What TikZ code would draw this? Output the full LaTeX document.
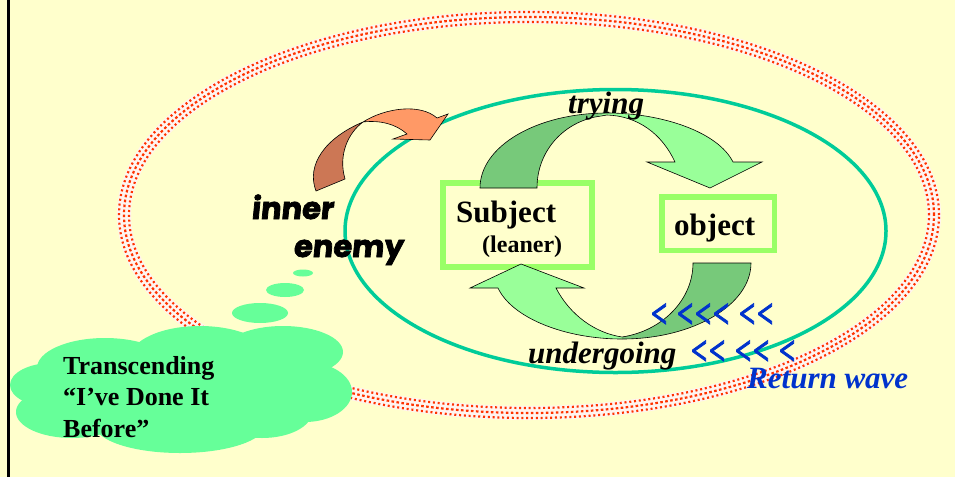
\documentclass[tikz,border=0pt]{standalone}
\usepackage{fontspec}
\setmainfont{Liberation Serif}
\newfontfamily\enemyfont[FakeSlant=0.1,BoldFeatures={FakeBold=2.5}]{Poppins}
\newfontfamily\chevfont[BoldItalicFeatures={FakeBold=2}]{Liberation Serif}
\newcommand\chv{\makebox[18pt]{\scalebox{0.95}[1.38]{<}}}
\newcommand\chgap{\hspace{8pt}}
\definecolor{bgyellow}{HTML}{FFFFCC}
\definecolor{ringteal}{HTML}{00CC99}
\definecolor{boxgreen}{HTML}{99FF66}
\definecolor{arrowdark}{HTML}{77C97A}
\definecolor{arrowlight}{HTML}{99FF99}
\definecolor{cloudgreen}{HTML}{66FF99}
\definecolor{orangedark}{HTML}{CC7755}
\definecolor{orangelight}{HTML}{FF9966}
\definecolor{wave}{HTML}{0033CC}
\definecolor{bandred}{HTML}{FF3300}
\definecolor{bandbase}{HTML}{FFF4F0}
\tikzset{
  greenbox/.style={draw=boxgreen, inner sep=0pt},
  arrowpiece/.style={draw=black, line width=0.6pt, line join=miter},
  bigbold/.style={font=\bfseries\fontsize{31}{36}\selectfont},
  bigbi/.style={font=\bfseries\itshape\fontsize{31}{36}\selectfont},
  cloudtext/.style={font=\bfseries\fontsize{26}{31}\selectfont, anchor=base west, inner sep=0pt},
  enemytext/.style={font=\enemyfont\bfseries\fontsize{30.5}{36}\selectfont, anchor=base west, inner sep=0pt},
  chev/.style={font=\chevfont\bfseries\itshape\fontsize{30}{34}\selectfont, text=wave, anchor=west, inner sep=0pt},
  band/.style={bandred, line width=2.2pt, dash pattern=on 2pt off 2.8pt},
}
\begin{document}
\begin{tikzpicture}[x=1pt,y=-1pt]
\useasboundingbox (0,0) rectangle (955,477);
\fill[bgyellow] (0,0) rectangle (955,477);
\draw[black, line width=2.7pt] (8.7,0) -- (8.7,477);

% outer textured ring
\draw[bandbase, line width=14pt] (529,215) ellipse [x radius=405pt, y radius=198pt];
\draw[band] (529,215) ellipse [x radius=400pt, y radius=193pt];
\draw[band, dash pattern=on 2.6pt off 2.4pt] (529,215) ellipse [x radius=405pt, y radius=198pt];
\draw[band] (529,215) ellipse [x radius=410pt, y radius=203pt];

% inner teal ring
\draw[ringteal, line width=3.5pt] (615.5,231) ellipse [x radius=270.5pt, y radius=141.5pt];

% thought cloud
\begin{scope}[cloudgreen]
\fill (52,385) ellipse [x radius=42pt, y radius=22pt];
\fill (72,412) ellipse [x radius=56pt, y radius=26pt];
\fill (105,368) ellipse [x radius=68pt, y radius=30pt];
\fill (200,358) ellipse [x radius=70pt, y radius=32pt];
\fill (283,352) ellipse [x radius=60pt, y radius=26pt];
\fill (305,392) ellipse [x radius=47pt, y radius=30pt];
\fill (180,425) ellipse [x radius=85pt, y radius=28pt];
\fill (262,412) ellipse [x radius=50pt, y radius=26pt];
\fill (180,392) ellipse [x radius=150pt, y radius=42pt];
\fill (260,313) ellipse [x radius=28pt, y radius=10pt];
\fill (285,290) ellipse [x radius=19pt, y radius=7pt];
\fill (303,273) ellipse [x radius=10pt, y radius=3.5pt];
\end{scope}
\node[cloudtext] (t1) at (63,374) {Transcending};
\node[cloudtext] (t2) at (63,405) {“I’ve Done It};
\node[cloudtext] (t3) at (63,437) {Before”};

% boxes
\node[greenbox, line width=6pt, minimum width=149pt, minimum height=84pt] (subjbox) at (517.5,225) {};
\node[greenbox, line width=5.5pt, minimum width=112.5pt, minimum height=53.5pt] (objbox) at (718,223.5) {};
\node[bigbold, anchor=base west, inner sep=0pt] (subj) at (456,222) {Subject};
\node[font=\bfseries\fontsize{24}{28}\selectfont, anchor=base west, inner sep=0pt] (lean) at (482,252) {(leaner)};
\node[bigbold, anchor=base west, inner sep=0pt] (obj) at (674,235) {object};

% top curved arrow (trying)
\fill[arrowdark] (480,188) .. controls (480,146) and (537,113) .. (607,113)
  -- (595,117) .. controls (562,124) and (537,152) .. (537,188) -- cycle;
\fill[arrowlight] (607,113) .. controls (662,113) and (718,132) .. (733,162)
  -- (762,162) -- (710,188) -- (647,162) -- (675,162)
  .. controls (662,134) and (638,116) .. (607,115) -- (595,117) -- cycle;
\draw[arrowpiece] (480,188) .. controls (480,146) and (537,113) .. (607,113)
  .. controls (662,113) and (718,132) .. (733,162)
  -- (762,162) -- (710,188) -- (647,162) -- (675,162)
  .. controls (662,134) and (638,116) .. (607,115) -- (595,117)
  .. controls (562,124) and (537,152) .. (537,188) -- cycle;

% bottom curved arrow (undergoing)
\fill[arrowdark] (751,263) .. controls (751,305) and (693,339) .. (622,339)
  -- (622,337) .. controls (662,331) and (693,300) .. (693,263) -- cycle;
\fill[arrowlight] (622,339) .. controls (565,339) and (512,318) .. (498,288)
  -- (470,288) -- (521,264) -- (584,288) -- (556,288)
  .. controls (570,315) and (595,333) .. (622,337) -- cycle;
\draw[arrowpiece] (751,263) .. controls (751,305) and (693,339) .. (622,339)
  .. controls (565,339) and (512,318) .. (498,288)
  -- (470,288) -- (521,264) -- (584,288) -- (556,288)
  .. controls (570,315) and (595,333) .. (622,337)
  .. controls (662,331) and (693,300) .. (693,263) -- cycle;

% orange curved arrow
\fill[orangedark] (316,191) .. controls (306,165) and (325,138) .. (363,122)
  .. controls (348,133) and (338,155) .. (345,179) -- cycle;
\fill[orangelight] (363,122) .. controls (385,108) and (420,103) .. (437,118)
  -- (448,114) -- (430,140) -- (393,139) -- (407,134)
  .. controls (396,124) and (380,120) .. (363,122) -- cycle;
\draw[arrowpiece] (316,191) .. controls (306,165) and (325,138) .. (363,122)
  .. controls (385,108) and (420,103) .. (437,118)
  -- (448,114) -- (430,140) -- (393,139) -- (407,134)
  .. controls (396,124) and (380,120) .. (363,122)
  .. controls (348,133) and (338,155) .. (345,179) -- cycle;

% labels
\node[bigbi, anchor=base west, inner sep=0pt] (trying) at (568,113) {trying};
\node[bigbi, anchor=base west, inner sep=0pt] (undergo) at (528,363) {undergoing};
\node[bigbi, text=wave, anchor=base west, inner sep=0pt] (ret) at (747,388) {Return wave};
\node[chev] (chev1) at (650,315.5) {\chv\chgap\chv\chv\chv\chgap\chv\chv};
\node[chev] (chev2) at (690,352.5) {\chv\chv\chgap\chv\chv\chgap\chv};
\node[enemytext] (inner) at (251,219) {inner};
\node[enemytext] (enemy) at (293,257) {enemy};
\end{tikzpicture}
\end{document}
